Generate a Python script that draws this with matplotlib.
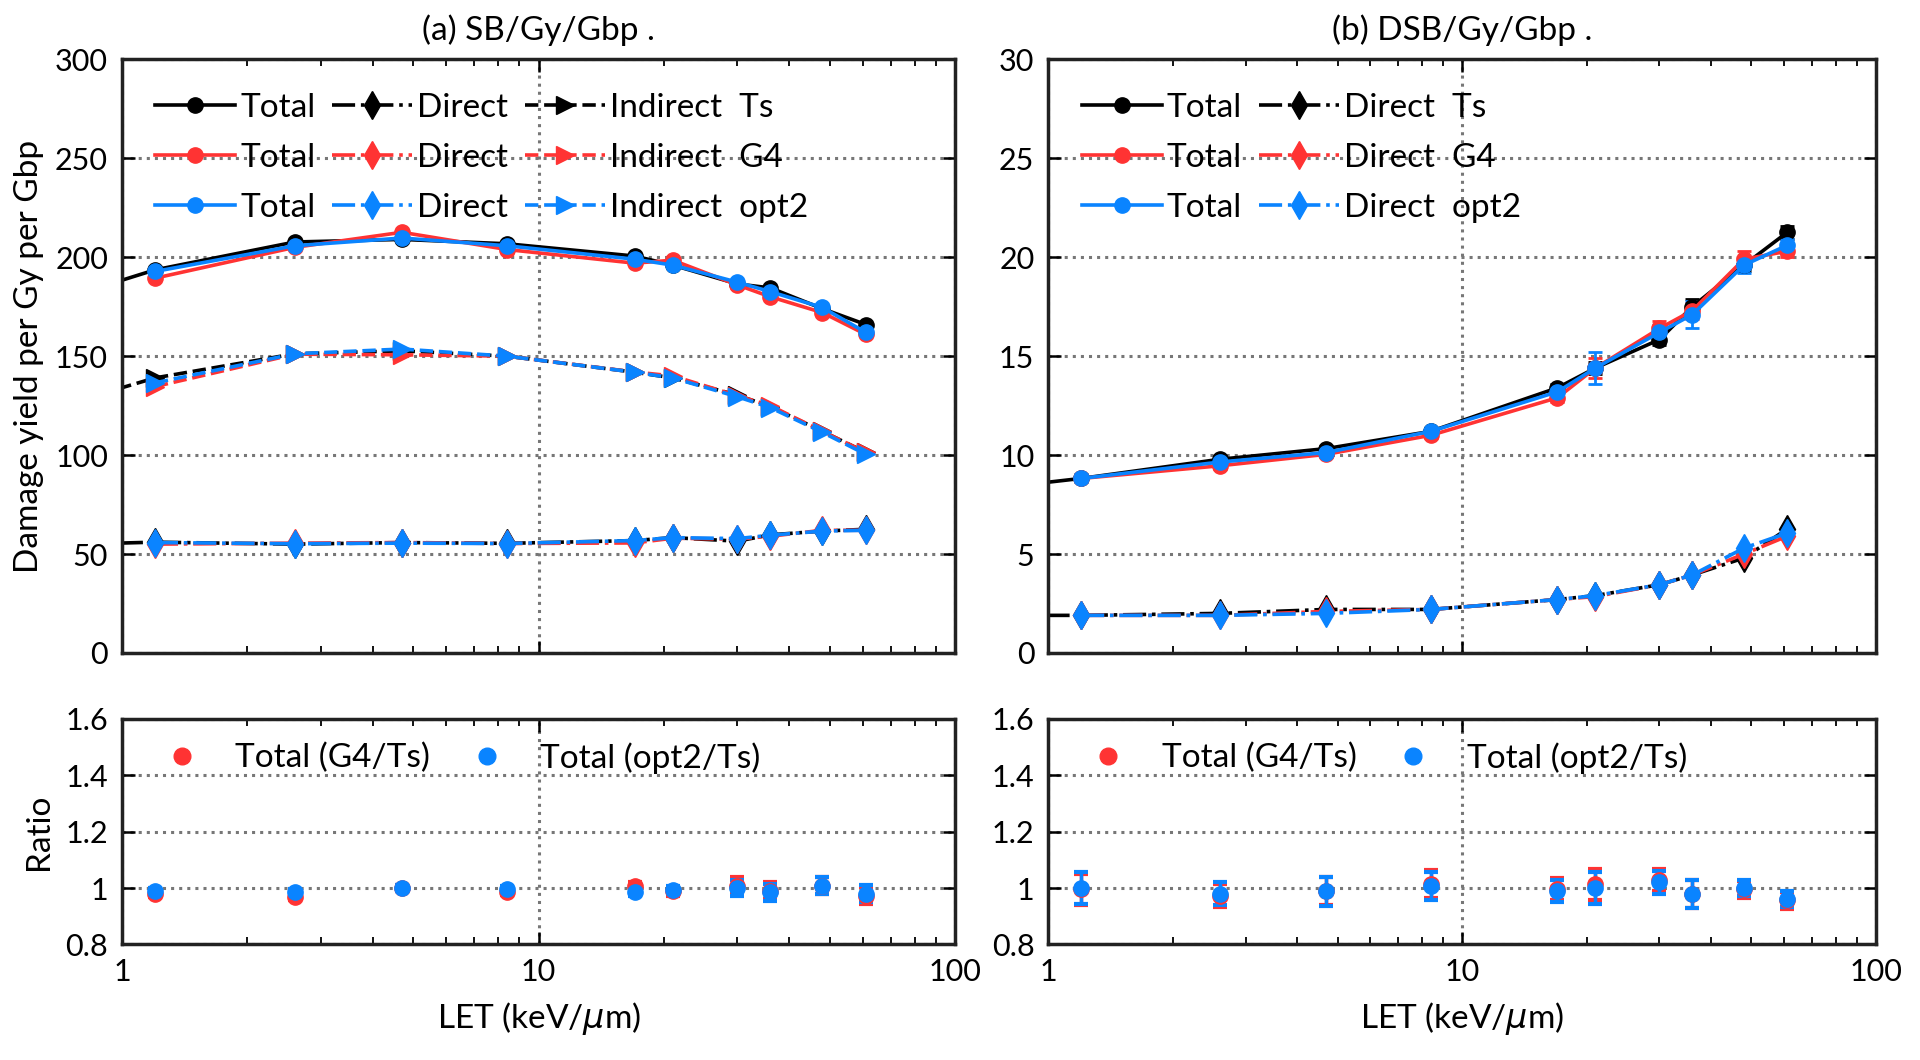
import numpy as np
import matplotlib
matplotlib.use("Agg")
import matplotlib.pyplot as plt
from matplotlib.lines import Line2D
from matplotlib.ticker import FormatStrFormatter, LogLocator, NullFormatter

plt.rcParams['font.family'] = ['Lato', 'DejaVu Sans']
plt.rcParams['mathtext.fontset'] = 'dejavusans'
fsize = 22

# LET values (keV/um); Ts has one more point below the axis range
let = [1.2, 2.6, 4.7, 8.4, 17, 21, 30, 36, 48, 61]
let_ts = [0.8] + let

# (a) SB per Gy per Gbp
sb_total_ts = [182, 193.6, 207.7, 209, 206.8, 200.6, 196, 186.5, 184.5, 174, 166]
sb_total_g4 = [189.4, 205, 212.6, 203.9, 197, 198.5, 186, 180, 172, 161]
sb_total_opt2 = [192.8, 205.8, 209.7, 205.8, 199, 196, 187.4, 182.6, 174.6, 162]
sb_direct_ts = [55, 56, 55, 55.8, 55.4, 56.8, 58.3, 56.5, 59.7, 61.6, 62.5]
sb_direct_g4 = [55, 55.5, 55.8, 55.3, 55.6, 58, 57.5, 59, 62, 62]
sb_direct_opt2 = [55.8, 55.2, 55.5, 55.3, 56.8, 58.3, 57.8, 59.5, 61.6, 62]
sb_indirect_ts = [128, 139, 151.2, 152.7, 150, 141.9, 139, 130.3, 124.5, 112, 101.4]
sb_indirect_g4 = [134.6, 151, 150.7, 150, 142, 140, 130, 125, 112, 101.4]
sb_indirect_opt2 = [136.5, 151.2, 153.6, 150, 141.9, 139, 129.5, 124, 111.5, 100.4]

# (b) DSB per Gy per Gbp
dsb_total_ts = [8.4, 8.82, 9.79, 10.33, 11.2, 13.4, 14.4, 15.84, 17.5, 19.6, 21.25]
dsb_total_g4 = [8.82, 9.46, 10.04, 11.0, 12.9, 14.4, 16.4, 17.3, 19.9, 20.3]
dsb_total_opt2 = [8.82, 9.65, 10.13, 11.2, 13.2, 14.4, 16.2, 17.1, 19.6, 20.6]
dsb_err_ts = [0.15, 0.15, 0.15, 0.15, 0.15, 0.2, 0.3, 0.3, 0.4, 0.3, 0.35]
dsb_err_g4 = [0.15, 0.15, 0.15, 0.15, 0.2, 0.5, 0.4, 0.4, 0.4, 0.3]
dsb_err_opt2 = [0.2, 0.15, 0.2, 0.15, 0.2, 0.8, 0.4, 0.7, 0.4, 0.3]
dsb_direct_ts = [1.9, 1.9, 2.0, 2.2, 2.2, 2.7, 2.9, 3.45, 3.94, 4.8, 6.26]
dsb_direct_g4 = [1.9, 1.9, 2.1, 2.2, 2.7, 2.85, 3.45, 3.94, 5.0, 5.9]
dsb_direct_opt2 = [1.9, 1.9, 2.0, 2.2, 2.7, 2.9, 3.45, 3.94, 5.3, 6.06]

# ratios to Ts
sb_ratio_g4 = [0.979, 0.967, 1.0, 0.985, 1.008, 0.988, 1.008, 0.99, 1.008, 0.973]
sb_ratio_opt2 = [0.99, 0.985, 1.0, 0.996, 0.985, 0.993, 1.0, 0.985, 1.008, 0.979]
sb_ratio_err = [0.01, 0.01, 0.01, 0.01, 0.015, 0.015, 0.03, 0.03, 0.03, 0.03]
dsb_ratio_g4 = [0.996, 0.973, 0.99, 1.014, 0.996, 1.014, 1.028, 0.98, 0.996, 0.956]
dsb_ratio_opt2 = [1.0, 0.98, 0.988, 1.008, 0.99, 1.0, 1.02, 0.979, 1.0, 0.961]
dsb_ratio_err = [0.055, 0.04, 0.05, 0.05, 0.04, 0.055, 0.04, 0.05, 0.03, 0.03]

c_ts = 'black'
c_g4 = '#ff3333'
c_opt2 = '#0a84ff'
lw = 2.6
ms = 11
leg_kw = dict(loc='upper left', frameon=False, fontsize=fsize + 2,
              handlelength=2.4, handletextpad=0.15, columnspacing=0.5,
              labelspacing=0.6, borderaxespad=0.6)


def style_axis(ax, xlabels):
    ax.set_xscale('log')
    ax.set_xlim(1, 100)
    ax.xaxis.set_major_locator(LogLocator(base=10, numticks=5))
    ax.xaxis.set_minor_locator(LogLocator(base=10, subs=np.arange(2, 10), numticks=20))
    ax.xaxis.set_minor_formatter(NullFormatter())
    if xlabels:
        ax.set_xticks([1, 10, 100])
        ax.set_xticklabels(['1', '10', '100'])
    else:
        ax.tick_params(labelbottom=False)
    ax.tick_params(which='both', direction='in', top=True, right=True, labelsize=fsize, pad=10)
    ax.tick_params(which='major', length=9, width=1.8)
    ax.tick_params(which='minor', length=5, width=1.3)
    ax.grid(True, which='major', linestyle=':', color='#777777', linewidth=2.2)
    for s in ax.spines.values():
        s.set_linewidth(2.5)
        s.set_color('#222222')


fig = plt.figure(figsize=(19.2, 10.6), dpi=100)
ax_a = fig.add_axes([0.0635, 0.384, 0.434, 0.560])
ax_b = fig.add_axes([0.546, 0.384, 0.431, 0.560])
ax_ra = fig.add_axes([0.0635, 0.109, 0.434, 0.213])
ax_rb = fig.add_axes([0.546, 0.109, 0.431, 0.213])

# (a) SB
series_a = [(let_ts, sb_total_ts, sb_direct_ts, sb_indirect_ts, c_ts, 'Ts'),
            (let, sb_total_g4, sb_direct_g4, sb_indirect_g4, c_g4, 'G4'),
            (let, sb_total_opt2, sb_direct_opt2, sb_indirect_opt2, c_opt2, 'opt2')]
h_tot, h_dir, h_ind = [], [], []
for x, tot, d, ind, c, name in series_a:
    h_dir += ax_a.plot(x, d, '-.', marker='d', color=c, lw=lw, ms=ms + 3, label='Direct')
    h_ind += ax_a.plot(x, ind, '--', marker='>', color=c, lw=lw, ms=ms + 2,
                       label='Indirect  ' + name)
    h_tot += ax_a.plot(x, tot, '-o', color=c, lw=lw, ms=ms, label='Total')
style_axis(ax_a, False)
ax_a.set_ylim(0, 300)
ax_a.set_yticks(np.arange(0, 301, 50))
ax_a.set_ylabel('Damage yield per Gy per Gbp', fontsize=fsize + 2, labelpad=8)
ax_a.set_title('(a) SB/Gy/Gbp .', fontsize=fsize + 2, pad=14)
ax_a.legend(handles=h_tot + h_dir + h_ind, ncol=3, **leg_kw)

# (b) DSB
series_b = [(let_ts, dsb_total_ts, dsb_err_ts, dsb_direct_ts, c_ts, 'Ts'),
            (let, dsb_total_g4, dsb_err_g4, dsb_direct_g4, c_g4, 'G4'),
            (let, dsb_total_opt2, dsb_err_opt2, dsb_direct_opt2, c_opt2, 'opt2')]
h_tot, h_dir = [], []
for x, tot, err, d, c, name in series_b:
    h_dir += ax_b.plot(x, d, '-.', marker='d', color=c, lw=lw, ms=ms + 3,
                       label='Direct  ' + name)
    ax_b.errorbar(x, tot, yerr=err, fmt='-o', color=c, lw=lw, ms=ms, capsize=5,
                  elinewidth=2, capthick=2)
    h_tot.append(Line2D([], [], color=c, lw=lw, marker='o', ms=ms, label='Total'))
style_axis(ax_b, False)
ax_b.set_ylim(0, 30)
ax_b.set_yticks(np.arange(0, 31, 5))
ax_b.set_title('(b) DSB/Gy/Gbp .', fontsize=fsize + 2, pad=14)
ax_b.legend(handles=h_tot + h_dir, ncol=2, **leg_kw)

# ratio panels
for ax, rg4, ropt2, rerr in [(ax_ra, sb_ratio_g4, sb_ratio_opt2, sb_ratio_err),
                             (ax_rb, dsb_ratio_g4, dsb_ratio_opt2, dsb_ratio_err)]:
    ax.errorbar(let, rg4, yerr=rerr, fmt='o', color=c_g4, ms=ms, capsize=5,
                elinewidth=2.5, capthick=3)
    ax.errorbar(let, ropt2, yerr=rerr, fmt='o', color=c_opt2, ms=ms, capsize=5,
                elinewidth=2.5, capthick=3)
    style_axis(ax, True)
    ax.set_ylim(0.8, 1.6)
    ax.set_yticks([0.8, 1.0, 1.2, 1.4, 1.6])
    ax.yaxis.set_major_formatter(FormatStrFormatter('%g'))
    ax.set_xlabel(r'LET (keV/$\mu$m)', fontsize=fsize + 2, labelpad=10)
    hr = [Line2D([], [], ls='none', marker='o', ms=ms + 1, color=c_g4, label='Total (G4/Ts)'),
          Line2D([], [], ls='none', marker='o', ms=ms + 1, color=c_opt2, label='Total (opt2/Ts)')]
    ax.legend(handles=hr, loc='upper left', ncol=2, frameon=False, fontsize=fsize + 2,
              handlelength=2.2, handletextpad=0.5, columnspacing=0.6, borderaxespad=0.3)
ax_ra.set_ylabel('Ratio', fontsize=fsize + 2, labelpad=8)

fig.savefig('out.png', dpi=100)
